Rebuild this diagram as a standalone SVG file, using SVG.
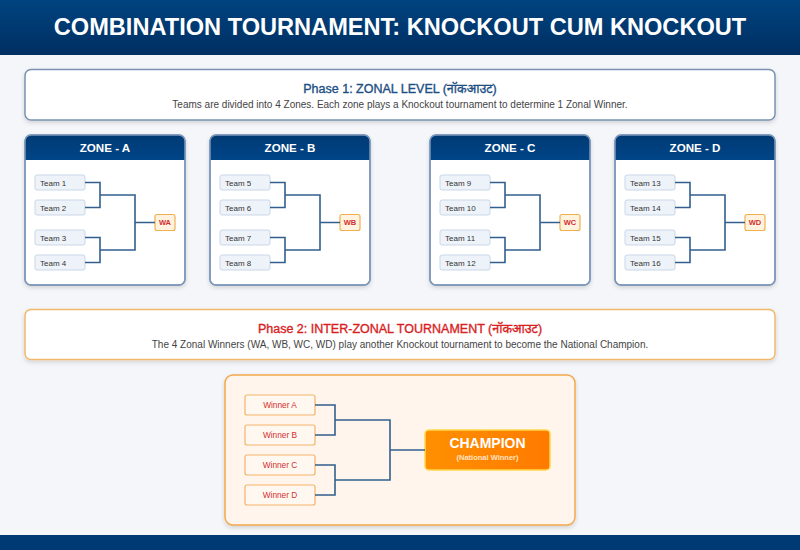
<svg xmlns="http://www.w3.org/2000/svg" width="800" height="550" viewBox="0 0 800 550">
<defs>
<linearGradient id="hdr" x1="0" y1="0" x2="0" y2="1"><stop offset="0" stop-color="#00437f"/><stop offset="1" stop-color="#002f62"/></linearGradient>
<linearGradient id="zhdr" x1="0" y1="0" x2="0" y2="1"><stop offset="0" stop-color="#003a74"/><stop offset="1" stop-color="#004588"/></linearGradient>
<linearGradient id="champ" x1="0" y1="0" x2="1" y2="0"><stop offset="0" stop-color="#ff9000"/><stop offset="1" stop-color="#ff7a00"/></linearGradient>
<filter id="sh" x="-10%" y="-10%" width="120%" height="130%"><feDropShadow dx="0" dy="2" stdDeviation="2" flood-color="#000" flood-opacity="0.15"/></filter>
</defs>
<style>
text{font-family:"Liberation Sans",Arial,"Noto Sans",sans-serif}
.title{font-size:23.6px;font-weight:bold;fill:#fff}
.phase{stroke-width:1.5;filter:url(#sh)}
.p1t{font-size:12.5px;fill:#1d4f84;stroke:#1d4f84;stroke-width:0.35}
.p2t{font-size:12.5px;fill:#d81e1e;stroke:#d81e1e;stroke-width:0.35}
.sub{font-size:10px;fill:#444}
.zone{fill:#fff;stroke:#7d98ba;stroke-width:1.5}
.zt{font-size:11.6px;font-weight:bold;fill:#fff}
.team{fill:#eef3fa;stroke:#c9d7e8;stroke-width:1}
.tt{font-size:8px;fill:#333}
.win{fill:#fff3e0;stroke:#f0b050;stroke-width:1.2}
.wt{font-size:7.5px;font-weight:bold;fill:#d32f2f}
.wbox{fill:#fff8f0;stroke:#f5b46a;stroke-width:1.2}
.wbt{font-size:8.3px;fill:#d32f2f}
.ln{fill:none;stroke:#325f8e;stroke-width:1.6}
</style>
<rect width="800" height="550" fill="#f4f6f9"/>
<g id="header">
<rect x="0" y="0" width="800" height="55" fill="url(#hdr)"/>
<text class="title" x="400" y="35" text-anchor="middle">COMBINATION TOURNAMENT: KNOCKOUT CUM KNOCKOUT</text>
</g>
<g id="phase1">
<rect class="phase" x="25" y="69.5" width="750" height="50.5" rx="6" fill="#fff" stroke="#7a93b3"/>
<text class="p1t" x="400" y="93" text-anchor="middle">Phase 1: ZONAL LEVEL (नॉकआउट)</text>
<text class="sub" x="400" y="107.5" text-anchor="middle">Teams are divided into 4 Zones. Each zone plays a Knockout tournament to determine 1 Zonal Winner.</text>
</g>

<g id="zone-a" transform="translate(25,135)">
<g filter="url(#sh)"><rect class="zone" x="0" y="0" width="160" height="150" rx="6"/></g>
<path d="M0,6 a6,6 0 0 1 6,-6 H154 a6,6 0 0 1 6,6 V25 H0 Z" fill="url(#zhdr)"/>
<rect x="0" y="0" width="160" height="150" rx="6" fill="none" stroke="#7d98ba" stroke-width="1.5"/>
<text class="zt" x="80" y="17" text-anchor="middle">ZONE - A</text>
<rect class="team" x="10" y="40" width="50" height="15" rx="2"/><text class="tt" x="15" y="50.5">Team 1</text>
<rect class="team" x="10" y="65" width="50" height="15" rx="2"/><text class="tt" x="15" y="75.5">Team 2</text>
<rect class="team" x="10" y="95" width="50" height="15" rx="2"/><text class="tt" x="15" y="105.5">Team 3</text>
<rect class="team" x="10" y="120" width="50" height="15" rx="2"/><text class="tt" x="15" y="130.5">Team 4</text>
<rect class="win" x="130" y="79.5" width="20" height="16" rx="2"/><text class="wt" x="140" y="90.3" text-anchor="middle">WA</text>
</g>
<g id="zone-b" transform="translate(210,135)">
<g filter="url(#sh)"><rect class="zone" x="0" y="0" width="160" height="150" rx="6"/></g>
<path d="M0,6 a6,6 0 0 1 6,-6 H154 a6,6 0 0 1 6,6 V25 H0 Z" fill="url(#zhdr)"/>
<rect x="0" y="0" width="160" height="150" rx="6" fill="none" stroke="#7d98ba" stroke-width="1.5"/>
<text class="zt" x="80" y="17" text-anchor="middle">ZONE - B</text>
<rect class="team" x="10" y="40" width="50" height="15" rx="2"/><text class="tt" x="15" y="50.5">Team 5</text>
<rect class="team" x="10" y="65" width="50" height="15" rx="2"/><text class="tt" x="15" y="75.5">Team 6</text>
<rect class="team" x="10" y="95" width="50" height="15" rx="2"/><text class="tt" x="15" y="105.5">Team 7</text>
<rect class="team" x="10" y="120" width="50" height="15" rx="2"/><text class="tt" x="15" y="130.5">Team 8</text>
<rect class="win" x="130" y="79.5" width="20" height="16" rx="2"/><text class="wt" x="140" y="90.3" text-anchor="middle">WB</text>
</g>
<g id="zone-c" transform="translate(430,135)">
<g filter="url(#sh)"><rect class="zone" x="0" y="0" width="160" height="150" rx="6"/></g>
<path d="M0,6 a6,6 0 0 1 6,-6 H154 a6,6 0 0 1 6,6 V25 H0 Z" fill="url(#zhdr)"/>
<rect x="0" y="0" width="160" height="150" rx="6" fill="none" stroke="#7d98ba" stroke-width="1.5"/>
<text class="zt" x="80" y="17" text-anchor="middle">ZONE - C</text>
<rect class="team" x="10" y="40" width="50" height="15" rx="2"/><text class="tt" x="15" y="50.5">Team 9</text>
<rect class="team" x="10" y="65" width="50" height="15" rx="2"/><text class="tt" x="15" y="75.5">Team 10</text>
<rect class="team" x="10" y="95" width="50" height="15" rx="2"/><text class="tt" x="15" y="105.5">Team 11</text>
<rect class="team" x="10" y="120" width="50" height="15" rx="2"/><text class="tt" x="15" y="130.5">Team 12</text>
<rect class="win" x="130" y="79.5" width="20" height="16" rx="2"/><text class="wt" x="140" y="90.3" text-anchor="middle">WC</text>
</g>
<g id="zone-d" transform="translate(615,135)">
<g filter="url(#sh)"><rect class="zone" x="0" y="0" width="160" height="150" rx="6"/></g>
<path d="M0,6 a6,6 0 0 1 6,-6 H154 a6,6 0 0 1 6,6 V25 H0 Z" fill="url(#zhdr)"/>
<rect x="0" y="0" width="160" height="150" rx="6" fill="none" stroke="#7d98ba" stroke-width="1.5"/>
<text class="zt" x="80" y="17" text-anchor="middle">ZONE - D</text>
<rect class="team" x="10" y="40" width="50" height="15" rx="2"/><text class="tt" x="15" y="50.5">Team 13</text>
<rect class="team" x="10" y="65" width="50" height="15" rx="2"/><text class="tt" x="15" y="75.5">Team 14</text>
<rect class="team" x="10" y="95" width="50" height="15" rx="2"/><text class="tt" x="15" y="105.5">Team 15</text>
<rect class="team" x="10" y="120" width="50" height="15" rx="2"/><text class="tt" x="15" y="130.5">Team 16</text>
<rect class="win" x="130" y="79.5" width="20" height="16" rx="2"/><text class="wt" x="140" y="90.3" text-anchor="middle">WD</text>
</g>

<g id="phase2">
<rect class="phase" x="25" y="309.5" width="750" height="50" rx="6" fill="#fff" stroke="#f2b96b"/>
<text class="p2t" x="400" y="333" text-anchor="middle">Phase 2: INTER-ZONAL TOURNAMENT (नॉकआउट)</text>
<text class="sub" x="400" y="348" text-anchor="middle">The 4 Zonal Winners (WA, WB, WC, WD) play another Knockout tournament to become the National Champion.</text>
</g>

<g id="final-panel">
<rect x="225" y="375" width="350" height="150" rx="8" fill="#fff5ec" stroke="#f3a84c" stroke-width="1.5" filter="url(#sh)"/>
</g>
<g id="winner-a"><rect class="wbox" x="245" y="395" width="70" height="20" rx="2"/><text class="wbt" x="280" y="408" text-anchor="middle">Winner A</text></g>
<g id="winner-b"><rect class="wbox" x="245" y="425" width="70" height="20" rx="2"/><text class="wbt" x="280" y="438" text-anchor="middle">Winner B</text></g>
<g id="winner-c"><rect class="wbox" x="245" y="455" width="70" height="20" rx="2"/><text class="wbt" x="280" y="468" text-anchor="middle">Winner C</text></g>
<g id="winner-d"><rect class="wbox" x="245" y="485" width="70" height="20" rx="2"/><text class="wbt" x="280" y="498" text-anchor="middle">Winner D</text></g>
<g id="champion">
<rect x="425" y="430" width="125" height="40" rx="4" fill="url(#champ)" stroke="#ffd84a" stroke-width="1.5"/>
<text x="487.5" y="448" text-anchor="middle" font-size="14" font-weight="bold" fill="#fff">CHAMPION</text>
<text x="487.5" y="460" text-anchor="middle" font-size="7.5" font-weight="bold" fill="#ffe3c4">(National Winner)</text>
</g>

<g id="connectors">
<path class="ln" d="M85,182.5H100V207.5H85M85,237.5H100V262.5H85M100,195H135V250H100M135,222.5H155"/>
<path class="ln" d="M270,182.5H285V207.5H270M270,237.5H285V262.5H270M285,195H320V250H285M320,222.5H340"/>
<path class="ln" d="M490,182.5H505V207.5H490M490,237.5H505V262.5H490M505,195H540V250H505M540,222.5H560"/>
<path class="ln" d="M675,182.5H690V207.5H675M675,237.5H690V262.5H675M690,195H725V250H690M725,222.5H745"/>
<path class="ln" d="M315,405H335V435H315M315,465H335V495H315M335,420H390V480H335M390,450H425"/>
</g>

<g id="footer"><rect x="0" y="535" width="800" height="15" fill="#003a75"/></g>
</svg>
